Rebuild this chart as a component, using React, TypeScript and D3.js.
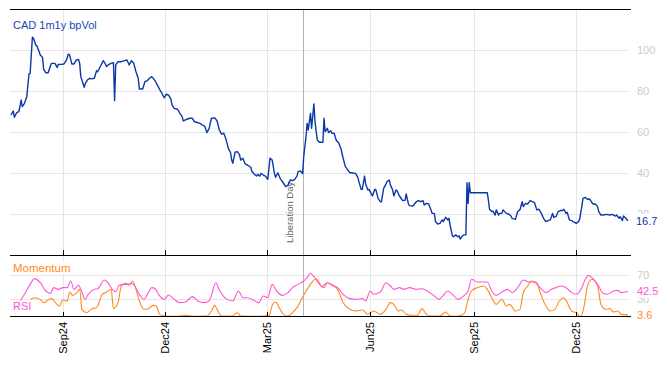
import React from 'react'
import * as d3 from 'd3'

// CAD 1m1y bp vol
const volData: [string, number][] = [
  ["2024-07-17",68.3],["2024-07-19",70.2],["2024-07-20",67.2],["2024-07-22",69.4],["2024-07-24",69.9],["2024-07-26",75.6],["2024-07-27",72.4],["2024-07-29",74],["2024-07-31",77.2],["2024-08-02",88.3],["2024-08-03",88.6],["2024-08-05",106.2],["2024-08-06",105.7],["2024-08-08",102.4],["2024-08-09",102.1],["2024-08-11",99.2],["2024-08-12",97.6],["2024-08-14",96.4],["2024-08-15",90.6],["2024-08-17",88.9],["2024-08-19",88.9],["2024-08-21",92.2],["2024-08-22",93.5],["2024-08-25",93.5],["2024-08-27",91.5],["2024-08-28",93],["2024-08-31",93],
  ["2024-09-02",93.2],["2024-09-04",94.8],["2024-09-06",98],["2024-09-07",97.6],["2024-09-09",93.2],["2024-09-11",93.2],["2024-09-13",95.1],["2024-09-15",95.4],["2024-09-16",93.5],["2024-09-17",87],["2024-09-20",81.8],["2024-09-21",83.7],["2024-09-23",85.4],["2024-09-25",86.2],["2024-09-26",85.9],["2024-09-29",86.2],
  ["2024-10-01",89.9],["2024-10-02",89.4],["2024-10-05",92.7],["2024-10-07",94.8],["2024-10-08",94],["2024-10-10",91.9],["2024-10-12",93],["2024-10-14",93.5],["2024-10-16",93.8],["2024-10-17",75.3],["2024-10-18",92.7],["2024-10-20",94.3],["2024-10-23",94.3],["2024-10-26",94.8],["2024-10-28",95.1],["2024-10-30",92.7],
  ["2024-11-01",94.8],["2024-11-03",93.5],["2024-11-05",89.4],["2024-11-07",86.2],["2024-11-08",81],["2024-11-11",81],["2024-11-13",84.6],["2024-11-15",85],["2024-11-17",86.2],["2024-11-19",87],["2024-11-22",85],["2024-11-24",82.9],["2024-11-26",80.8],["2024-11-28",78.9],["2024-11-30",76.7],
  ["2024-12-02",78.5],["2024-12-04",78],["2024-12-06",76],["2024-12-07",73.2],["2024-12-09",71.5],["2024-12-12",71.1],["2024-12-14",69.1],["2024-12-16",67.5],["2024-12-17",65.4],["2024-12-20",66.2],["2024-12-23",66.7],["2024-12-25",66.7],["2024-12-27",65],["2024-12-30",64.5],
  ["2025-01-01",64.2],["2025-01-03",63.4],["2025-01-05",62.9],["2025-01-07",59.7],["2025-01-09",61.8],["2025-01-11",66.7],["2025-01-14",66.9],["2025-01-16",65.5],["2025-01-18",61],["2025-01-20",59],["2025-01-22",59.4],["2025-01-24",56.4],["2025-01-26",52],["2025-01-28",49.9],["2025-01-29",46.3],["2025-01-30",44.7],
  ["2025-02-01",50.1],["2025-02-03",50.4],["2025-02-05",48.8],["2025-02-06",46.3],["2025-02-08",47.2],["2025-02-10",44.4],["2025-02-12",43.9],["2025-02-15",42.8],["2025-02-16",40.7],["2025-02-18",39.5],["2025-02-20",38.5],["2025-02-21",39.3],["2025-02-23",38.5],["2025-02-24",39.8],["2025-02-26",39],["2025-02-28",38.5],
  ["2025-03-02",36.9],["2025-03-03",41.5],["2025-03-04",47.2],["2025-03-06",46.3],["2025-03-08",39.8],["2025-03-09",37.9],["2025-03-11",40.1],["2025-03-13",37.4],["2025-03-14",36.6],["2025-03-16",35],["2025-03-18",33.3],["2025-03-20",34.1],["2025-03-22",36.6],["2025-03-24",36.3],["2025-03-26",36.9],["2025-03-28",38.5],["2025-03-29",40.7],["2025-03-31",41],
  ["2025-04-02",39.8],["2025-04-03",48],["2025-04-05",57.7],["2025-04-06",64.2],["2025-04-07",61],["2025-04-09",69.1],["2025-04-10",61.8],["2025-04-12",73.7],["2025-04-13",65],["2025-04-15",56.1],["2025-04-17",55],["2025-04-20",55],["2025-04-21",66.7],["2025-04-22",60.2],["2025-04-24",61.8],["2025-04-25",59.7],["2025-04-27",60.6],["2025-04-28",59.4],["2025-04-30",59.4],
  ["2025-05-02",55.8],["2025-05-04",54.8],["2025-05-06",52],["2025-05-08",47.2],["2025-05-10",43.1],["2025-05-12",41.5],["2025-05-14",40.1],["2025-05-16",40.1],["2025-05-18",39.8],["2025-05-19",39.8],["2025-05-21",37.9],["2025-05-22",35.8],["2025-05-24",32],["2025-05-25",32],["2025-05-27",38.5],["2025-05-28",34.6],["2025-05-30",31.7],["2025-05-31",32],
  ["2025-06-02",29.8],["2025-06-03",28.8],["2025-06-05",32],["2025-06-06",32],["2025-06-08",27.6],["2025-06-10",26],["2025-06-11",26],["2025-06-13",32.5],["2025-06-15",34.6],["2025-06-16",35.8],["2025-06-18",36.6],["2025-06-19",34.1],["2025-06-21",31.7],["2025-06-22",28.8],["2025-06-24",31.7],["2025-06-25",31.2],["2025-06-27",28.8],["2025-06-29",27.2],["2025-06-30",26.5],
  ["2025-07-02",26.7],["2025-07-03",29.8],["2025-07-05",24.8],["2025-07-06",24.1],["2025-07-09",23.9],["2025-07-12",26],["2025-07-14",26.5],["2025-07-16",26],["2025-07-18",26.5],["2025-07-19",24.4],["2025-07-21",25.2],["2025-07-23",24.9],["2025-07-25",22],["2025-07-26",20.3],["2025-07-28",20.3],["2025-07-29",16.3],["2025-07-31",15.1],
  ["2025-08-02",15.4],["2025-08-04",17.1],["2025-08-05",16.3],["2025-08-07",18.4],["2025-08-09",17.1],["2025-08-10",17.9],["2025-08-11",14.6],["2025-08-13",9.3],["2025-08-14",8.9],["2025-08-16",9.8],["2025-08-18",8.9],["2025-08-19",9.3],["2025-08-20",7.8],["2025-08-22",9.3],["2025-08-23",9.8],["2025-08-25",9.8],["2025-08-26",35.3],["2025-08-27",25.2],["2025-08-28",35.3],["2025-08-29",30.4],
  ["2025-09-13",30.4],["2025-09-14",26.8],["2025-09-15",22.3],["2025-09-17",21.2],["2025-09-18",21.4],["2025-09-20",19.5],["2025-09-21",22],["2025-09-23",19.5],["2025-09-24",20.3],["2025-09-26",20.3],["2025-09-27",22],["2025-09-30",20.3],
  ["2025-10-02",20],["2025-10-04",19],["2025-10-05",17.9],["2025-10-08",17.4],["2025-10-10",21.2],["2025-10-12",22],["2025-10-14",26],["2025-10-15",23.6],["2025-10-17",25.2],["2025-10-19",24.9],["2025-10-21",26.5],["2025-10-23",26],["2025-10-25",25.5],["2025-10-27",22],["2025-10-29",22.3],["2025-10-31",20.3],
  ["2025-11-02",17.9],["2025-11-04",16.3],["2025-11-06",16.8],["2025-11-08",17.1],["2025-11-10",20.3],["2025-11-11",18.4],["2025-11-13",18.7],["2025-11-15",21.2],["2025-11-17",21.7],["2025-11-19",21.7],["2025-11-20",22.3],["2025-11-22",20.3],["2025-11-23",20.8],["2025-11-25",17.1],["2025-11-27",16.8],["2025-11-28",16.3],["2025-11-30",15.8],
  ["2025-12-01",15.4],["2025-12-03",16.3],["2025-12-04",17.4],["2025-12-06",23.6],["2025-12-07",27.6],["2025-12-09",28.1],["2025-12-11",27.2],["2025-12-13",27.3],["2025-12-15",25.5],["2025-12-16",24.9],["2025-12-18",24.9],["2025-12-20",23.6],["2025-12-21",21.2],["2025-12-23",19.5],["2025-12-25",19.5],["2025-12-28",19.8],["2025-12-31",19.5],
  ["2026-01-02",19.8],["2026-01-05",19],["2026-01-06",19.5],["2026-01-08",17.9],["2026-01-09",18.7],["2026-01-11",16.8],["2026-01-12",19],["2026-01-14",17.9],["2026-01-16",16.7],
]

const rsiData: [string, number][] = [
  ["2024-07-20",12.8],["2024-07-28",35],["2024-08-03",54.4],["2024-08-07",63.9],["2024-08-12",57.2],["2024-08-17",43.3],["2024-08-21",39.4],["2024-08-24",48.9],["2024-08-28",46.1],
  ["2024-09-01",48.9],["2024-09-05",48.9],["2024-09-08",60],["2024-09-11",46.1],["2024-09-15",52.8],["2024-09-17",46.1],["2024-09-21",29.4],["2024-09-23",36.1],["2024-09-29",46.1],
  ["2024-10-02",47.2],["2024-10-08",61.7],["2024-10-11",57.2],["2024-10-15",46.1],["2024-10-18",41.7],["2024-10-21",52.8],["2024-10-25",54.4],["2024-10-29",54.4],
  ["2024-11-01",56.1],["2024-11-04",51.7],["2024-11-08",37.8],["2024-11-12",29.4],["2024-11-16",40.6],["2024-11-19",48.9],["2024-11-22",47.2],["2024-11-25",37.8],["2024-11-30",29.4],
  ["2024-12-04",36.7],["2024-12-09",29.4],["2024-12-14",23.9],["2024-12-19",25],["2024-12-25",33.9],["2024-12-30",26.7],
  ["2025-01-04",23.9],["2025-01-09",26.7],["2025-01-15",57.2],["2025-01-18",45],["2025-01-22",33.9],["2025-01-25",29.4],["2025-01-30",26.7],
  ["2025-02-04",43.3],["2025-02-08",32.2],["2025-02-12",32.2],["2025-02-17",28.3],["2025-02-22",23.9],["2025-02-26",35],
  ["2025-03-02",32.2],["2025-03-06",54.4],["2025-03-10",43.3],["2025-03-15",36.1],["2025-03-20",40.6],["2025-03-24",48.9],["2025-03-29",54.4],
  ["2025-04-03",60],["2025-04-06",65.6],["2025-04-09",72.8],["2025-04-12",67.2],["2025-04-16",60],["2025-04-19",50.6],["2025-04-24",57.2],["2025-04-28",52.8],
  ["2025-05-03",48.9],["2025-05-08",37.8],["2025-05-14",30.6],["2025-05-19",29.4],["2025-05-25",30.6],["2025-05-28",26.7],
  ["2025-06-01",43.3],["2025-06-04",37.8],["2025-06-10",41.7],["2025-06-15",57.2],["2025-06-19",51.7],["2025-06-22",46.1],["2025-06-27",48.9],
  ["2025-07-01",46.1],["2025-07-06",48.9],["2025-07-12",46.1],["2025-07-17",47.2],["2025-07-23",41.7],["2025-07-28",35],
  ["2025-08-01",29.4],["2025-08-05",36.1],["2025-08-09",43.3],["2025-08-13",37.8],["2025-08-18",29.4],["2025-08-23",35],["2025-08-27",43.3],["2025-08-30",62.8],
  ["2025-09-04",58.3],["2025-09-13",58.3],["2025-09-17",43.3],["2025-09-21",36.1],["2025-09-26",41.7],
  ["2025-10-01",46.1],["2025-10-05",40.6],["2025-10-10",48.9],["2025-10-15",61.7],["2025-10-20",58.3],["2025-10-24",58.3],["2025-10-30",48.9],
  ["2025-11-04",40.6],["2025-11-09",46.1],["2025-11-13",48.9],["2025-11-18",51.7],["2025-11-22",48.9],["2025-11-27",40.6],
  ["2025-12-01",37.8],["2025-12-06",48.9],["2025-12-09",62.8],["2025-12-12",69.4],["2025-12-15",65.6],["2025-12-20",54.4],["2025-12-25",39.4],["2025-12-29",37.8],
  ["2026-01-03",43.3],["2026-01-07",44.4],["2026-01-10",40.6],["2026-01-16",42.5],
]

const momData: [string, number][] = [
  ["2024-08-03",29.4],["2024-08-07",32.2],["2024-08-12",29.4],["2024-08-15",23.9],["2024-08-19",28.3],["2024-08-22",30.6],["2024-08-26",22.8],["2024-08-29",18.3],
  ["2024-09-01",28.3],["2024-09-05",26.7],["2024-09-07",41.7],["2024-09-10",36.1],["2024-09-12",37.8],["2024-09-16",46.1],["2024-09-18",12.8],["2024-09-22",7.2],["2024-09-27",13.9],
  ["2024-10-01",15.6],["2024-10-06",37.8],["2024-10-10",41.7],["2024-10-14",46.1],["2024-10-16",13.9],["2024-10-20",23.9],["2024-10-23",51.7],["2024-10-27",56.1],["2024-10-30",52.8],
  ["2024-11-02",60],["2024-11-05",46.1],["2024-11-08",26.7],["2024-11-12",12.8],["2024-11-16",13.9],["2024-11-20",19.4],["2024-11-23",18.3],["2024-11-26",4.4],
  ["2024-12-01",1.7],["2024-12-07",1.1],["2024-12-14",1.7],["2024-12-19",2.8],["2024-12-24",1.7],["2024-12-30",1.1],
  ["2025-01-04",1.7],["2025-01-07",1.7],["2025-01-11",10],["2025-01-14",19.4],["2025-01-16",12.8],["2025-01-20",1.7],["2025-01-29",1.7],
  ["2025-02-03",7.2],["2025-02-06",1.7],["2025-02-19",1.1],["2025-02-26",1.7],
  ["2025-03-02",2.8],["2025-03-03",0.6],["2025-03-06",19.4],["2025-03-09",25],["2025-03-13",12.8],["2025-03-16",4.4],["2025-03-20",1.7],["2025-03-24",7.2],["2025-03-28",15.6],
  ["2025-04-01",29.4],["2025-04-06",46.1],["2025-04-10",57.2],["2025-04-13",62.8],["2025-04-17",54.4],["2025-04-21",48.9],["2025-04-24",57.2],["2025-04-29",52.8],
  ["2025-05-03",46.1],["2025-05-08",23.9],["2025-05-14",12.8],["2025-05-19",10],["2025-05-25",11.7],["2025-05-30",4.4],
  ["2025-06-04",10],["2025-06-10",4.4],["2025-06-15",12.8],["2025-06-19",23.9],["2025-06-22",21.1],["2025-06-26",10],["2025-06-29",11.7],
  ["2025-07-03",4.4],["2025-07-08",2.8],["2025-07-13",2.8],["2025-07-17",13.9],["2025-07-21",4.4],["2025-07-26",1.7],
  ["2025-08-02",1.7],["2025-08-07",8.3],["2025-08-11",1.7],["2025-08-16",1.1],["2025-08-21",2.8],["2025-08-24",7.2],["2025-08-27",29.4],["2025-08-30",43.3],
  ["2025-09-04",48.9],["2025-09-10",51.7],["2025-09-13",46.1],["2025-09-17",32.2],["2025-09-21",21.1],["2025-09-26",29.4],["2025-09-30",18.3],
  ["2025-10-03",21.1],["2025-10-08",10],["2025-10-12",12.8],["2025-10-15",40.6],["2025-10-19",51.7],["2025-10-22",60],["2025-10-27",57.2],["2025-10-30",40.6],
  ["2025-11-04",18.3],["2025-11-08",10],["2025-11-12",12.8],["2025-11-16",26.7],["2025-11-20",32.2],["2025-11-23",23.9],["2025-11-27",10],
  ["2025-12-01",7.2],["2025-12-05",0.6],["2025-12-08",18.3],["2025-12-11",51.7],["2025-12-15",62.8],["2025-12-20",51.7],["2025-12-23",21.1],["2025-12-27",12.8],["2025-12-31",13.9],
  ["2026-01-03",8.3],["2026-01-07",10],["2026-01-10",4.4],["2026-01-16",3.6],
]

const mainTicks = [20, 40, 60, 80, 100]
const subTicks = [30, 70]
const monthTicks = ["2024-09-01", "2024-12-01", "2025-03-01", "2025-06-01", "2025-09-01", "2025-12-01"]
const eventDate = "2025-04-02"
const eventLabel = "Liberation Day"

const parse = d3.timeParse("%Y-%m-%d")
const fmtMonth = d3.timeFormat("%b%y")

const BLUE = "#0b37a8"
const ORANGE = "#ff8a1e"
const PINK = "#ff55d6"
const FONT = "'Liberation Sans', Arial, sans-serif"

export default function App() {
  const W = 668, H = 366
  const left = 10, right = 631

  const x = d3.scaleTime()
    .domain([parse("2024-07-17")!, parse("2026-01-16")!])
    .range([11, 628])
  const y = d3.scaleLinear().domain([0, 120]).range([255, 9])
  const y2 = d3.scaleLinear().domain([0, 100]).range([317, 257])

  const mainLine = d3.line<[string, number]>()
    .x(d => x(parse(d[0])!))
    .y(d => y(d[1]))
  const subLine = d3.line<[string, number]>()
    .x(d => x(parse(d[0])!))
    .y(d => y2(d[1]))
    .curve(d3.curveMonotoneX)

  const ticks = monthTicks.map(s => parse(s)!)
  const ev = x(parse(eventDate)!)

  const last = (a: [string, number][]) => a[a.length - 1]
  const vLast = last(volData), rLast = last(rsiData), mLast = last(momData)

  return (
    <svg width={W} height={H} style={{position: 'absolute', left: 0, top: 0, background: '#fff', fontFamily: FONT}}>
      {/* grid */}
      <g stroke="#e6e6e6" strokeWidth={1}>
        {mainTicks.map(t => <line key={'h' + t} x1={left} x2={right - 3} y1={Math.round(y(t)) + 0.5} y2={Math.round(y(t)) + 0.5} />)}
        {subTicks.map(t => <line key={'s' + t} x1={left} x2={right - 3} y1={Math.round(y2(t)) + 0.5} y2={Math.round(y2(t)) + 0.5} />)}
        {ticks.map((t, i) => <line key={'v' + i} x1={Math.round(x(t)) + 0.5} x2={Math.round(x(t)) + 0.5} y1={9} y2={316} />)}
      </g>

      {/* event marker */}
      <line x1={Math.round(ev) + 0.5} x2={Math.round(ev) + 0.5} y1={9} y2={316} stroke="#b4b4b4" strokeWidth={1} />
      <text transform={`translate(${ev - 10},243) rotate(-90)`} fontSize={9.5} fill="#666" textAnchor="start">{eventLabel}</text>

      {/* series */}
      <path d={mainLine(volData)!} fill="none" stroke={BLUE} strokeWidth={1.4} strokeLinejoin="round" />
      <path d={subLine(momData)!} fill="none" stroke={ORANGE} strokeWidth={1.1} />
      <path d={subLine(rsiData)!} fill="none" stroke={PINK} strokeWidth={1.1} />

      {/* frames */}
      <g stroke="#000" strokeWidth={1}>
        <line x1={left} x2={right} y1={9.5} y2={9.5} />
        <line x1={left} x2={right} y1={255.5} y2={255.5} />
        <line x1={left} x2={right} y1={316.5} y2={316.5} />
        {ticks.map((t, i) => (
          <g key={'t' + i}>
            <line x1={Math.round(x(t)) + 0.5} x2={Math.round(x(t)) + 0.5} y1={250} y2={255} />
            <line x1={Math.round(x(t)) + 0.5} x2={Math.round(x(t)) + 0.5} y1={312} y2={316} />
          </g>
        ))}
      </g>

      {/* x labels */}
      {ticks.map((t, i) => (
        <text key={'xl' + i} transform={`translate(${x(t) + 4},322) rotate(-90)`} fontSize={11} fill="#000" textAnchor="end">{fmtMonth(t)}</text>
      ))}

      {/* y labels */}
      {mainTicks.map(t => (
        <text key={'yl' + t} x={637} y={y(t)} dy="0.35em" fontSize={11} fill="#cccccc">{t}</text>
      ))}
      {subTicks.map(t => (
        <text key={'yl2' + t} x={637} y={y2(t)} dy="0.35em" fontSize={11} fill="#cccccc">{t}</text>
      ))}

      {/* last values */}
      <rect x={635} y={y(vLast[1]) - 7} width={30} height={14} fill="#fff" />
      <text x={636} y={y(vLast[1])} dy="0.35em" fontSize={11} fill={BLUE}>{vLast[1]}</text>
      <rect x={635} y={y2(rLast[1]) - 7} width={30} height={13} fill="#fff" />
      <text x={637} y={y2(rLast[1])} dy="0.35em" fontSize={11} fill={PINK}>{rLast[1]}</text>
      <text x={637} y={y2(mLast[1])} dy="0.35em" fontSize={11} fill={ORANGE}>{mLast[1]}</text>

      {/* titles */}
      <text x={13} y={25} dy="0.35em" fontSize={11} fill="#1a44b4">CAD 1m1y bpVol</text>
      <rect x={11} y={262} width={64} height={12} fill="#fff" opacity={0.85} />
      <text x={13} y={268} dy="0.35em" fontSize={11.5} fill={ORANGE}>Momentum</text>
      <rect x={11} y={300} width={20} height={12} fill="#fff" opacity={0.7} />
      <text x={13} y={306} dy="0.35em" fontSize={11} fill={PINK}>RSI</text>
    </svg>
  )
}
